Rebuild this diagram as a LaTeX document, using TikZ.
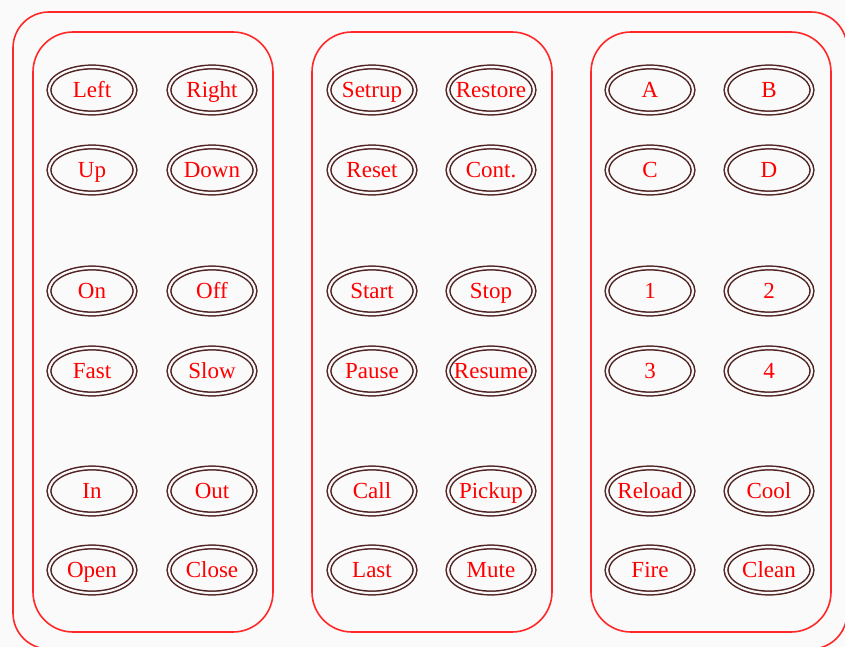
\documentclass[tikz,border=0pt]{standalone}
\usepackage{fontspec}
\setmainfont{Liberation Serif}
\usetikzlibrary{shapes.geometric}
\definecolor{btnline}{RGB}{80,35,35}
\definecolor{redline}{RGB}{255,40,40}
\definecolor{bg}{RGB}{250,250,250}
\tikzset{
  panel/.style={draw=redline, line width=1.6pt, rounded corners=40pt},
  btn/.style={ellipse, draw=btnline, line width=1.5pt, minimum width=86pt, minimum height=46pt, inner sep=0pt,
     double=bg, double distance=2.2pt},
  lbl/.style={text=red, font=\fontsize{23}{23}\selectfont, inner sep=0pt, text height=15pt, text depth=0pt},
}
\begin{document}
\begin{tikzpicture}[x=1pt,y=-1pt]
\fill[bg] (0,0) rectangle (845,647);
\useasboundingbox (0,0) rectangle (845,647);
\begin{scope}
\clip (0,0) rectangle (845,647);
\draw[panel, rounded corners=36pt] (13,12) rectangle (847,649);
\end{scope}
\draw[panel] (33,32) rectangle (273,632);
\draw[panel] (312,32) rectangle (552,632);
\draw[panel] (591,32) rectangle (831,632);
\foreach \name/\x/\y/\t in {
 l1/92/90/Left, l2/212/90/Right, l3/92/170/Up, l4/212/170/Down,
 l5/92/291/On, l6/212/291/Off, l7/92/371/Fast, l8/212/371/Slow,
 l9/92/491/In, l10/212/491/Out, l11/92/570/Open, l12/212/570/Close,
 m1/372/90/Setrup, m2/491/90/Restore, m3/372/170/Reset, m4/491/170/Cont.,
 m5/372/291/Start, m6/491/291/Stop, m7/372/371/Pause, m8/491/371/Resume,
 m9/372/491/Call, m10/491/491/Pickup, m11/372/570/Last, m12/491/570/Mute,
 r1/650/90/A, r2/769/90/B, r3/650/170/C, r4/769/170/D,
 r5/650/291/1, r6/769/291/2, r7/650/371/3, r8/769/371/4,
 r9/650/491/Reload, r10/769/491/Cool, r11/650/570/Fire, r12/769/570/Clean}
 {\node[btn] (\name) at (\x,\y) {};
  \node[lbl] (\name-t) at (\x,\y) {\t};}
\end{tikzpicture}
\end{document}
